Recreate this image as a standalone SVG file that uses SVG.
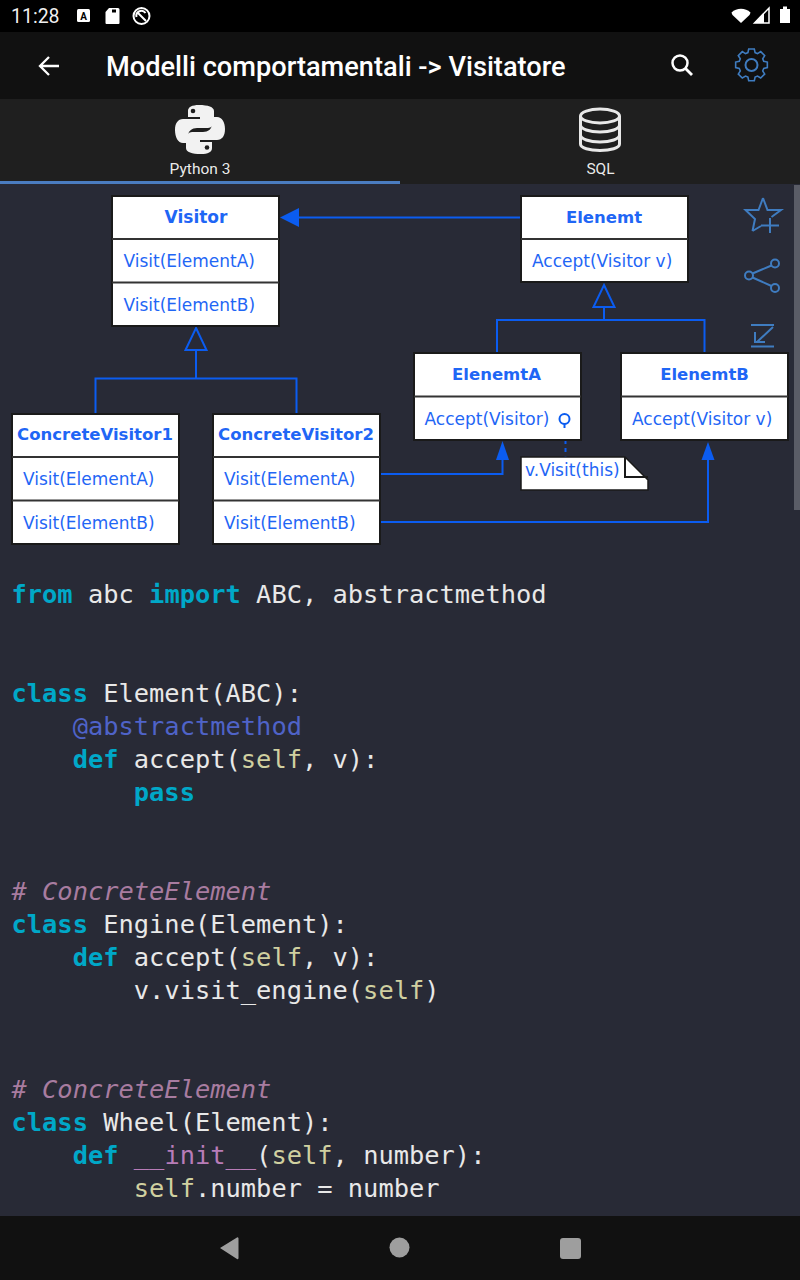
<svg xmlns="http://www.w3.org/2000/svg" width="800" height="1280" viewBox="0 0 800 1280">
<style>
.ui{font-family:Roboto,"Liberation Sans",sans-serif;fill:#fff}
.box{fill:#fff;stroke:#1a1a1a;stroke-width:2}
.div{stroke:#333;stroke-width:2}
.t{font-family:"DejaVu Sans",sans-serif;font-size:17px;fill:#1f66f5}
.b{font-weight:bold;text-anchor:middle;font-size:16.500px}
.c{fill:none;stroke:#0b5cf0;stroke-width:2}
.i{fill:none;stroke:#3f7cc0;stroke-width:2}
.code{font-family:"DejaVu Sans Mono",monospace;font-size:25.400px;fill:#e8e8e8;white-space:pre}
.k{fill:#00a8c8;font-weight:bold}.s{fill:#d0d0a0}.d{fill:#4f63c8}.f{fill:#b87cb8}.m{fill:#a87ca0;font-style:italic}
.nav{fill:#9e9e9e}
</style>
<rect width="800" height="1280" fill="#282a36"/>
<g id="status-bar">
<rect width="800" height="32" fill="#000"/>
<text class="ui" x="11" y="23" font-size="19.500" fill-opacity="0.95">11:28</text>
<rect x="77" y="9" width="13" height="13" rx="1.500" fill="#fff"/>
<text x="83.500" y="20" font-family="Roboto,sans-serif" font-size="10" font-weight="bold" text-anchor="middle" fill="#000">A</text>
<path d="M109 8h9a1.500 1.500 0 0 1 1.500 1.500V23a1 1 0 0 1-1 1h-12a1 1 0 0 1-1-1V12z" fill="#fff"/>
<path d="M112 9.500h4v3h-4z" fill="#000"/>
<circle cx="141.500" cy="16" r="8" fill="none" stroke="#fff" stroke-width="2"/>
<path d="M137 12l9 9M136.500 17a5 5 0 0 1 9-4" fill="none" stroke="#fff" stroke-width="2"/>
<path d="M731.500 12.500a14 14 0 0 1 19 0q-.5 1.500-1 2.500l-8.500 8-8.500-8q-.5-1-1-2.500z" fill="#fff"/>
<path d="M754.500 23L769 8v15z" fill="none" stroke="#fff" stroke-width="1.500"/>
<path d="M754.500 23L764 13v10z" fill="#fff"/>
<path d="M780 9h3V6.500h4V9h3v14h-10z" fill="#fff"/>
</g>
<g id="app-bar">
<rect y="32" width="800" height="67" fill="#111"/>
<path d="M59 66H40M49 57l-9 9 9 9" fill="none" stroke="#fff" stroke-width="2.300"/>
<text class="ui" x="106" y="76" font-size="27.200" font-weight="500">Modelli comportamentali -&gt; Visitatore</text>
<circle cx="680" cy="63" r="7.500" fill="none" stroke="#fff" stroke-width="2.500"/>
<path d="M685.500 68.500L692 75" stroke="#fff" stroke-width="2.800" fill="none"/>
<g id="gear" class="i">
<circle cx="751.500" cy="65" r="6"/>
<path d="M748 49.500h7l1 4.500 3 1.300 4-2.500 5 5-2.500 4 1.300 3 4.500 1v7l-4.500 1-1.300 3 2.500 4-5 5-4-2.500-3 1.300-1 4.500h-7l-1-4.500-3-1.300-4 2.500-5-5 2.500-4-1.300-3-4.500-1v-7l4.500-1 1.300-3-2.500-4 5-5 4 2.500 3-1.300z" transform="translate(751.500 65) scale(.8) translate(-751.500 -69.500)"/>
</g>
</g>
<g id="tab-bar">
<rect y="99" width="800" height="85" fill="#1f1f1f"/>
<rect y="181" width="400" height="3" fill="#4a7cc0"/>
<g id="python-logo" fill="#f2f2f2">
<path d="M199 105c-7 0-11 2-11 6v6h12v2h-17c-5 0-8 4-8 11s3 13 8 13h5v-7c0-5 4-8 9-8h11c3 0 6-3 6-6v-11c0-4-6-6-15-6z"/>
<path d="M201 154c7 0 11-2 11-6v-6h-12v-2h17c5 0 8-4 8-11s-3-12-8-12h-5v7c0 5-4 8-9 8h-11c-3 0-6 3-6 6v10c0 4 6 6 15 6z"/>
<circle cx="193" cy="111" r="2.300" fill="#1f1f1f"/>
<circle cx="207" cy="147.500" r="2.300" fill="#1f1f1f"/>
</g>
<text class="ui" x="200" y="174" font-size="15.500" text-anchor="middle" fill-opacity="0.92">Python 3</text>
<g id="sql-logo" fill="none" stroke="#e8e8e8" stroke-width="3">
<ellipse cx="600" cy="116" rx="19.500" ry="7"/>
<path d="M580.500 116v28c0 4 9 6.500 19.500 6.500s19.500-2.500 19.500-6.500v-28M580.500 125c0 4 9 7 19.500 7s19.500-3 19.500-7M580.500 135c0 4 9 7 19.500 7s19.500-3 19.500-7"/>
</g>
<text class="ui" x="600.500" y="174" font-size="15.500" text-anchor="middle" fill-opacity="0.92">SQL</text>
</g>
<g id="connectors">
<path class="c" d="M520 217.500H298"/>
<path d="M280 217.500l19-9.500v19z" fill="#0b5cf0"/>
<path class="c" d="M196 378V350M95.500 413V378.500H296.500V413"/>
<path class="c" d="M196 328l10.500 22h-21z"/>
<path class="c" d="M604 320V307M497 352V320H704.500V352"/>
<path class="c" d="M604 285l10.500 22h-21z"/>
<path class="c" d="M380 474H502.500V460"/>
<path d="M502.500 441l6.500 19h-13z" fill="#0b5cf0"/>
<path class="c" d="M380 522H708V460"/>
<path d="M708 442l6.500 18h-13z" fill="#0b5cf0"/>
<path class="c" d="M565.500 432V457" stroke-dasharray="4 4"/>
</g>
<g id="node-visitor">
<rect class="box" x="112" y="196" width="167" height="130"/>
<path class="div" d="M112 239h167M112 282.500h167"/>
<text class="t b" x="196" y="223" style="font-size:17px">Visitor</text>
<text class="t" x="123.500" y="266.500">Visit(ElementA)</text>
<text class="t" x="123.500" y="310.500">Visit(ElementB)</text>
</g>
<g id="node-elenemt">
<rect class="box" x="521" y="196" width="167" height="86"/>
<path class="div" d="M521 239h167"/>
<text class="t b" x="604" y="223">Elenemt</text>
<text class="t" x="532" y="266.500">Accept(Visitor v)</text>
</g>
<g id="node-elenemta">
<rect class="box" x="414" y="353" width="167" height="87"/>
<path class="div" d="M414 396.500h167"/>
<text class="t b" x="496.500" y="380">ElenemtA</text>
<text class="t" x="424.500" y="424.500">Accept(Visitor)</text>
<circle cx="564.500" cy="419" r="5" fill="none" stroke="#0b5cf0" stroke-width="2"/>
<path class="c" d="M564.500 424v4"/>
</g>
<g id="node-elenemtb">
<rect class="box" x="621" y="353" width="167" height="87"/>
<path class="div" d="M621 396.500h167"/>
<text class="t b" x="704.500" y="380">ElenemtB</text>
<text class="t" x="632" y="424.500">Accept(Visitor v)</text>
</g>
<g id="node-concretevisitor1">
<rect class="box" x="12" y="414" width="167" height="130"/>
<path class="div" d="M12 457h167M12 500.500h167"/>
<text class="t b" x="95" y="440">ConcreteVisitor1</text>
<text class="t" x="23" y="484.500">Visit(ElementA)</text>
<text class="t" x="23" y="528.500">Visit(ElementB)</text>
</g>
<g id="node-concretevisitor2">
<rect class="box" x="213" y="414" width="167" height="130"/>
<path class="div" d="M213 457h167M213 500.500h167"/>
<text class="t b" x="296" y="440">ConcreteVisitor2</text>
<text class="t" x="224" y="484.500">Visit(ElementA)</text>
<text class="t" x="224" y="528.500">Visit(ElementB)</text>
</g>
<g id="node-note">
<path d="M521 457H625L648 480V490H521z" fill="#fff" stroke="#1a1a1a" stroke-width="1.500"/>
<path d="M625 457V477H648" fill="none" stroke="#1a1a1a" stroke-width="2"/>
<text class="t" x="525" y="476">v.Visit(this)</text>
</g>
<g id="side-icons" class="i">
<path d="M763 198L767.500 210H781L771.500 217M752.500 231L755 219 745.500 210H758.500L763 198M752.500 231L761 226"/>
<path d="M770 218v15M761 225.500h18"/>
<circle cx="775" cy="263.500" r="4"/><circle cx="749" cy="275.500" r="4"/><circle cx="775" cy="288" r="4"/>
<path d="M752.500 273.500L771.500 265.500M752.500 277.500L771.500 286"/>
<path d="M751 325h23M751 346.500h23M773 327L757 342M755 332v10h10"/>
</g>
<rect id="scrollbar" x="794" y="185" width="6" height="325" fill="#5a5c66"/>
<g id="code" class="code">
<text x="11.500" y="603"><tspan class="k">from</tspan> abc <tspan class="k">import</tspan> ABC, abstractmethod</text>
<text x="11.500" y="702"><tspan class="k">class</tspan> Element(ABC):</text>
<text x="11.500" y="735" xml:space="preserve">    <tspan class="d">@abstractmethod</tspan></text>
<text x="11.500" y="768" xml:space="preserve">    <tspan class="k">def</tspan> accept(<tspan class="s">self</tspan>, v):</text>
<text x="11.500" y="801" xml:space="preserve">        <tspan class="k">pass</tspan></text>
<text x="11.500" y="900" class="m"># ConcreteElement</text>
<text x="11.500" y="933"><tspan class="k">class</tspan> Engine(Element):</text>
<text x="11.500" y="966" xml:space="preserve">    <tspan class="k">def</tspan> accept(<tspan class="s">self</tspan>, v):</text>
<text x="11.500" y="999" xml:space="preserve">        v.visit_engine(<tspan class="s">self</tspan>)</text>
<text x="11.500" y="1098" class="m"># ConcreteElement</text>
<text x="11.500" y="1131"><tspan class="k">class</tspan> Wheel(Element):</text>
<text x="11.500" y="1164" xml:space="preserve">    <tspan class="k">def</tspan> <tspan class="f">__init__</tspan>(<tspan class="s">self</tspan>, number):</text>
<text x="11.500" y="1197" xml:space="preserve">        <tspan class="s">self</tspan>.number = number</text>
</g>
<g id="nav-bar">
<rect y="1216" width="800" height="64" fill="#111"/>
<path class="nav" d="M220 1248l17-10.500a1 1 0 0 1 1.500 1v19.500a1 1 0 0 1-1.500 1z"/>
<circle class="nav" cx="399.500" cy="1247.500" r="10"/>
<rect class="nav" x="560" y="1238" width="21" height="21" rx="3"/>
</g>
</svg>
